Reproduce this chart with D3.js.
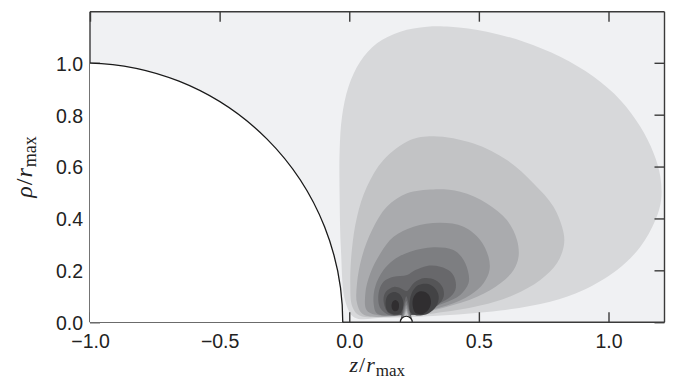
<!DOCTYPE html>
<html>
<head>
<meta charset="utf-8">
<script src="https://cdn.jsdelivr.net/npm/d3@7"></script>
<style>
  body { margin: 0; background: #fff; }
  svg { display: block; }
  .tick text { font-family: "Liberation Sans", Arial, sans-serif; font-size: 19.5px; fill: #222; }
  .title { font-family: "Liberation Serif", serif; fill: #222; }
</style>
</head>
<body>
<svg id="chart"></svg>
<script>
// axis ticks
const xTicks = [-1.0, -0.5, 0.0, 0.5, 1.0];
const yTicks = [0.0, 0.2, 0.4, 0.6, 0.8, 1.0];

// filled contour levels, outer (light) to inner (dark) as [z, rho]
const levelColors = ["#d7d8da", "#c2c3c5", "#aaabae", "#939497", "#7d7e81", "#68686b", "#555557", "#434345", "#302e30"];

const contour1 = [[-0.037, 0.471], [-0.037, 0.664], [-0.028, 0.792], [-0.003, 0.908], [0.042, 1.004], [0.107, 1.075],
  [0.197, 1.12], [0.300, 1.139], [0.390, 1.139], [0.531, 1.12], [0.673, 1.081], [0.814, 1.023], [0.943, 0.946],
  [1.046, 0.856], [1.123, 0.753], [1.174, 0.651], [1.200, 0.561], [1.203, 0.471], [1.181, 0.394], [1.123, 0.291],
  [1.033, 0.201], [0.904, 0.124], [0.775, 0.079], [0.583, 0.045], [0.325, 0.024], [0.132, 0.017], [0.02, 0.018],
  [-0.015, 0.08], [-0.032, 0.278]];
const contour2 = [[0.325, 0.717], [0.235, 0.702], [0.132, 0.625], [0.068, 0.522], [0.030, 0.407], [0.010, 0.278],
  [0.004, 0.150], [0.012, 0.06], [0.04, 0.026], [0.171, 0.022], [0.325, 0.034], [0.505, 0.064], [0.634, 0.105],
  [0.737, 0.163], [0.801, 0.227], [0.827, 0.291], [0.827, 0.343], [0.788, 0.445], [0.711, 0.535], [0.608, 0.625],
  [0.480, 0.689]];
const contour3 = [[0.325, 0.512], [0.223, 0.497], [0.145, 0.445], [0.088, 0.355], [0.049, 0.252], [0.030, 0.150],
  [0.030, 0.073], [0.055, 0.03], [0.223, 0.028], [0.364, 0.056], [0.493, 0.098], [0.583, 0.150], [0.634, 0.201],
  [0.653, 0.252], [0.647, 0.317], [0.608, 0.394], [0.531, 0.458], [0.428, 0.503]];
const contour4 = [[0.351, 0.383], [0.248, 0.368], [0.171, 0.329], [0.120, 0.265], [0.081, 0.188], [0.062, 0.111],
  [0.068, 0.045], [0.120, 0.026], [0.248, 0.036], [0.377, 0.064], [0.467, 0.105], [0.518, 0.150], [0.541, 0.201],
  [0.537, 0.252], [0.505, 0.317], [0.441, 0.368]];
const contour5 = [[0.325, 0.289], [0.235, 0.272], [0.171, 0.240], [0.132, 0.201], [0.100, 0.137], [0.094, 0.073],
  [0.107, 0.034], [0.171, 0.026], [0.274, 0.045], [0.364, 0.073], [0.428, 0.105], [0.460, 0.150], [0.460, 0.188],
  [0.441, 0.240], [0.402, 0.278]];
const contour6 = [[0.113, 0.111], [0.132, 0.156], [0.171, 0.175], [0.223, 0.182], [0.255, 0.201], [0.300, 0.217],
  [0.351, 0.214], [0.390, 0.195], [0.409, 0.163], [0.409, 0.124], [0.383, 0.092], [0.325, 0.064], [0.248, 0.038],
  [0.158, 0.027], [0.120, 0.054]];
const contour7 = [[0.132, 0.086], [0.142, 0.118], [0.172, 0.136], [0.2, 0.13], [0.222, 0.12], [0.25, 0.152],
  [0.29, 0.17], [0.333, 0.162], [0.36, 0.135], [0.364, 0.098], [0.34, 0.064], [0.287, 0.035], [0.209, 0.026],
  [0.152, 0.035]];

// light notches above the small circle, largest first, with the level colour they fall back to
const notches = [
  [[0.195, 0], [0.205, 0.04], [0.212, 0.075], [0.22, 0.1], [0.228, 0.075], [0.235, 0.04], [0.245, 0]],
  [[0.198, 0], [0.207, 0.035], [0.214, 0.064], [0.22, 0.082], [0.226, 0.064], [0.233, 0.035], [0.242, 0]],
  [[0.201, 0], [0.209, 0.03], [0.215, 0.052], [0.22, 0.066], [0.225, 0.052], [0.231, 0.03], [0.239, 0]],
  [[0.203, 0], [0.211, 0.026], [0.216, 0.042], [0.22, 0.053], [0.224, 0.042], [0.229, 0.026], [0.237, 0]],
  [[0.205, 0], [0.212, 0.022], [0.217, 0.035], [0.22, 0.043], [0.223, 0.035], [0.228, 0.022], [0.235, 0]]
];
const notchColors = ["#68686b", "#7d7e81", "#939497", "#aaabae", "#c2c3c5"];

// the two dark lobes
const lobe8Left = [[0.14, 0.07], [0.148, 0.103], [0.17, 0.116], [0.192, 0.11], [0.206, 0.088], [0.207, 0.055],
  [0.196, 0.034], [0.172, 0.03], [0.148, 0.042]];
const lobe8Right = [[0.232, 0.06], [0.24, 0.11], [0.265, 0.142], [0.3, 0.148], [0.33, 0.132], [0.345, 0.1],
  [0.336, 0.062], [0.305, 0.034], [0.26, 0.026], [0.238, 0.035]];
const lobe9Left = [[0.163, 0.064], [0.168, 0.08], [0.178, 0.086], [0.189, 0.078], [0.192, 0.06], [0.186, 0.045],
  [0.175, 0.042], [0.166, 0.05]];
const lobe9Right = [[0.244, 0.07], [0.25, 0.1], [0.27, 0.118], [0.293, 0.116], [0.31, 0.1], [0.315, 0.072],
  [0.303, 0.045], [0.28, 0.031], [0.255, 0.036]];

// boundary circle and the small hole on the axis
const boundary = { cz: -1.025, cr: 0, r: 1.0 };
const hole = { z: 0.22, rho: 0, r: 0.023 };

const width = 682, height = 386;
const margin = { top: 11.7, right: 17.5, bottom: 63.8, left: 90 };

const x = d3.scaleLinear().domain([-1, 1.216]).range([margin.left, width - margin.right]);
const y = d3.scaleLinear().domain([0, 1.197]).range([height - margin.bottom, margin.top]);

const svg = d3.select("#chart").attr("width", width).attr("height", height);

svg.append("clipPath").attr("id", "plot")
  .append("rect")
  .attr("x", x.range()[0]).attr("y", y.range()[1])
  .attr("width", x.range()[1] - x.range()[0]).attr("height", y.range()[0] - y.range()[1]);

svg.append("clipPath").attr("id", "cover")
  .append("rect")
  .attr("x", x.range()[0]).attr("y", y.range()[1])
  .attr("width", x.range()[1] - x.range()[0]).attr("height", y.range()[0] - y.range()[1] + 2);

const plot = svg.append("g").attr("clip-path", "url(#plot)");

plot.append("rect")
  .attr("x", x.range()[0]).attr("y", y.range()[1])
  .attr("width", x.range()[1] - x.range()[0]).attr("height", y.range()[0] - y.range()[1])
  .attr("fill", "#f0f1f3");

const blob = d3.line()
  .x(d => x(d[0]))
  .y(d => y(d[1]))
  .curve(d3.curveCatmullRomClosed.alpha(0.5));

const notchLine = d3.line()
  .x(d => x(d[0]))
  .y(d => y(d[1]))
  .curve(d3.curveCatmullRom.alpha(0.5));

const contours = [contour1, contour2, contour3, contour4, contour5, contour6, contour7];
plot.selectAll("path.level")
  .data(contours)
  .enter()
  .append("path")
  .attr("class", "level")
  .attr("d", blob)
  .attr("fill", (d, i) => levelColors[i]);

plot.selectAll("path.notch")
  .data(notches)
  .enter()
  .append("path")
  .attr("class", "notch")
  .attr("d", notchLine)
  .attr("fill", (d, i) => notchColors[i]);

const lobes = [
  { pts: lobe8Left, c: levelColors[7] },
  { pts: lobe8Right, c: levelColors[7] },
  { pts: lobe9Left, c: levelColors[8] },
  { pts: lobe9Right, c: levelColors[8] }
];
plot.selectAll("path.lobe")
  .data(lobes)
  .enter()
  .append("path")
  .attr("class", "lobe")
  .attr("d", d => blob(d.pts))
  .attr("fill", d => d.c);

// small hole at the axis
plot.append("circle")
  .attr("cx", x(hole.z)).attr("cy", y(hole.rho))
  .attr("r", x(hole.r) - x(0))
  .attr("fill", "#fff")
  .attr("stroke", "#222")
  .attr("stroke-width", 1.2);

// axes, ticks inside
const fmt = d3.format(".1f");
const frame = "#3a3a3a";

const gBottom = svg.append("g").attr("transform", `translate(0,${y(0)})`)
  .call(d3.axisBottom(x).tickValues(xTicks).tickFormat(fmt).tickSize(-10).tickPadding(12));
const gTop = svg.append("g").attr("transform", `translate(0,${y.range()[1]})`)
  .call(d3.axisTop(x).tickValues(xTicks).tickFormat("").tickSize(-10));
const gLeft = svg.append("g").attr("transform", `translate(${x(-1)},0)`)
  .call(d3.axisLeft(y).tickValues(yTicks).tickFormat(fmt).tickSize(-10).tickPadding(7));
const gRight = svg.append("g").attr("transform", `translate(${x.range()[1]},0)`)
  .call(d3.axisRight(y).tickValues(yTicks).tickFormat("").tickSize(-10));

[gBottom, gTop, gLeft, gRight].forEach(g => {
  g.select(".domain").remove();
  g.selectAll(".tick line").attr("stroke", frame).attr("stroke-width", 1.4);
});
gLeft.selectAll(".tick text").attr("dy", "0.38em");

// spines
const spines = [
  [[x.range()[0], y.range()[1]], [x.range()[1], y.range()[1]]],
  [[x.range()[1], y.range()[1]], [x.range()[1], y.range()[0]]],
  [[x.range()[0], y.range()[0]], [x.range()[1], y.range()[0]]],
  [[x.range()[0], y.range()[1]], [x.range()[0], y.range()[0]]]
];
svg.selectAll("line.spine")
  .data(spines)
  .enter()
  .append("line")
  .attr("class", "spine")
  .attr("x1", d => d[0][0]).attr("y1", d => d[0][1])
  .attr("x2", d => d[1][0]).attr("y2", d => d[1][1])
  .attr("stroke", frame)
  .attr("stroke-width", 1.4);

// white region inside the boundary circle, drawn over the frame
const rpx = x(boundary.cz + boundary.r) - x(boundary.cz);
const cx = x(boundary.cz), cy = y(boundary.cr);
const cover = svg.append("g").attr("clip-path", "url(#cover)");
cover.append("path")
  .attr("transform", `translate(${cx},${cy})`)
  .attr("d", d3.arc().innerRadius(0).outerRadius(rpx).startAngle(0).endAngle(Math.PI / 2)())
  .attr("fill", "#fff");

const arcPath = d3.path();
arcPath.moveTo(cx, cy - rpx);
arcPath.arc(cx, cy, rpx, -Math.PI / 2, 0, false);
svg.append("path")
  .attr("clip-path", "url(#cover)")
  .attr("d", arcPath.toString())
  .attr("fill", "none")
  .attr("stroke", "#1a1a1a")
  .attr("stroke-width", 1.3);

// axis titles
const xt = svg.append("text").attr("class", "title")
  .attr("x", (x.range()[0] + x.range()[1]) / 2).attr("y", 372)
  .attr("text-anchor", "middle").attr("font-size", 22);
xt.append("tspan").attr("font-style", "italic").text("z");
xt.append("tspan").attr("dx", 1).text("/");
xt.append("tspan").attr("font-style", "italic").attr("dx", 1).text("r");
xt.append("tspan").attr("font-size", 17).attr("dx", 1).attr("dy", 4).text("max");

const yt = svg.append("text").attr("class", "title")
  .attr("transform", `translate(32,${(y.range()[0] + y.range()[1]) / 2}) rotate(-90)`)
  .attr("text-anchor", "middle").attr("font-size", 24);
yt.append("tspan").attr("font-style", "italic").text("ρ");
yt.append("tspan").attr("dx", 1).text("/");
yt.append("tspan").attr("font-style", "italic").attr("dx", 1).text("r");
yt.append("tspan").attr("font-size", 18).attr("dx", 1).attr("dy", 4).text("max");
</script>
</body>
</html>
